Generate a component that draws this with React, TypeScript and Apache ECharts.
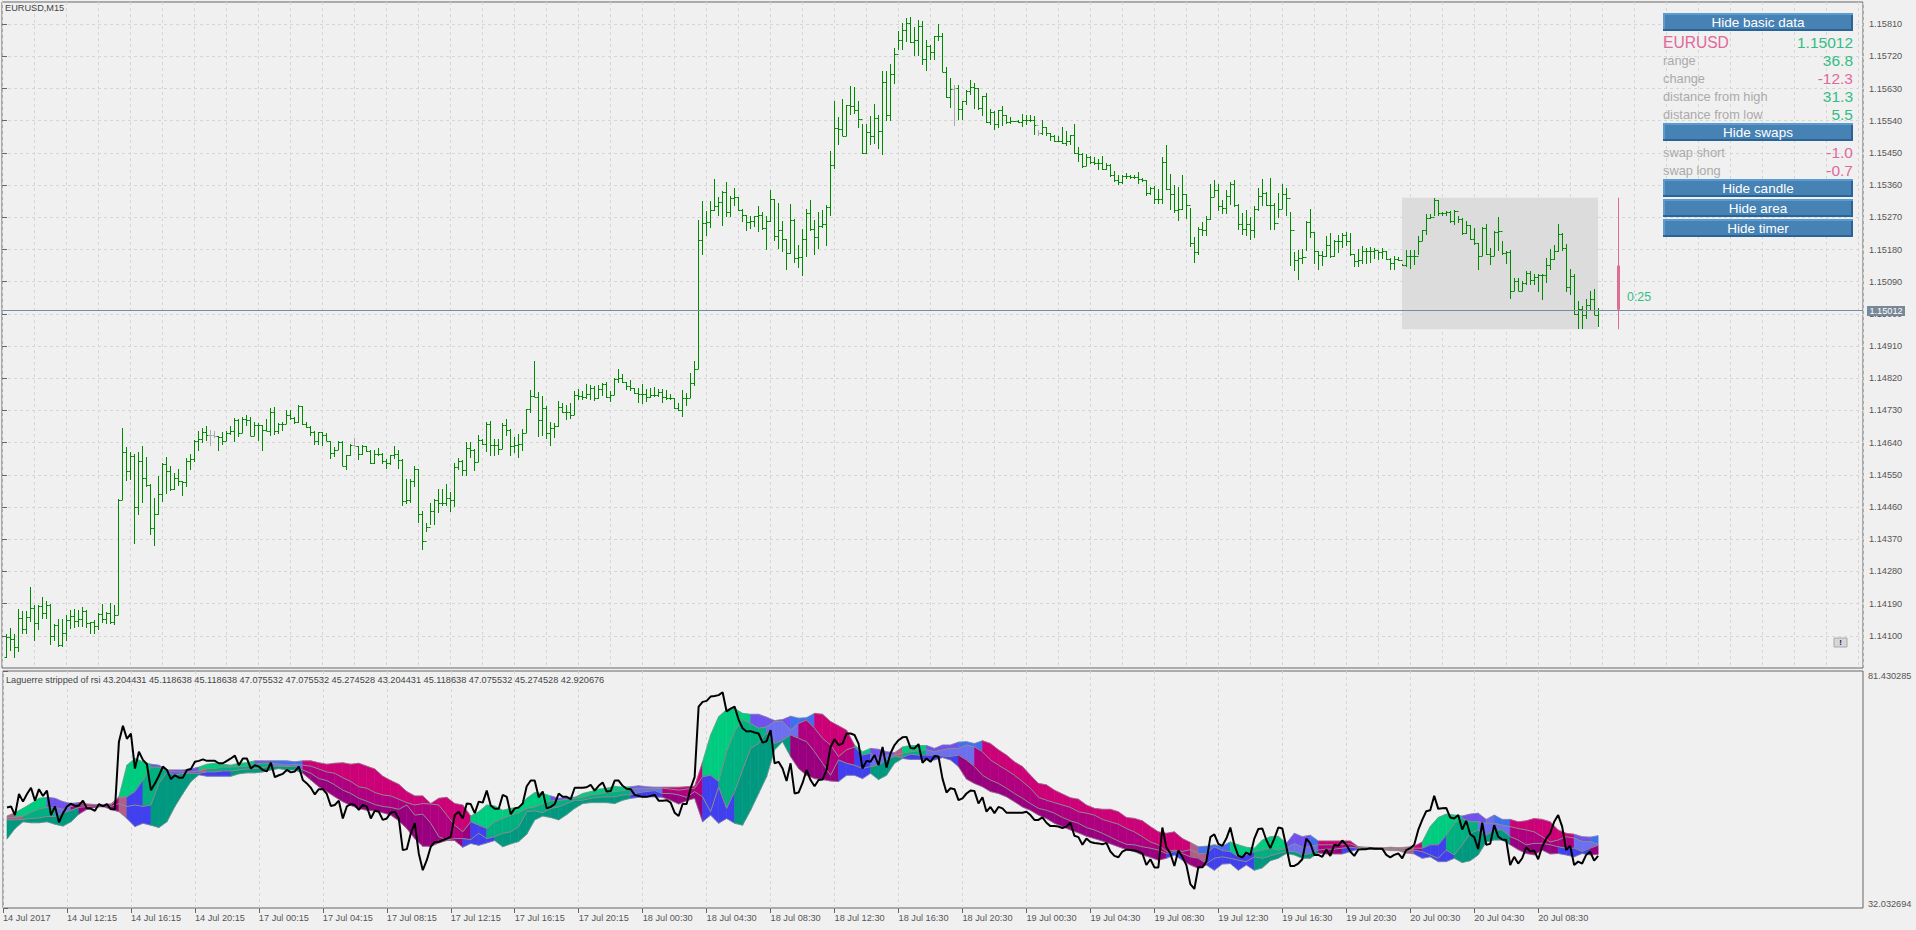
import React, { useEffect, useRef } from "react";
import * as echarts from "echarts";

// Prices are stored as points above 1.14000 (100 = 1.14100)
const HIGHS = [
104,122,106,175,168,168,237,185,185,209,198,190,132,148,148,159,171,176,173,180,
171,139,143,164,190,167,192,187,483,681,628,614,609,614,632,600,524,485,548,583,
600,574,555,567,534,597,608,648,672,682,687,676,673,659,669,673,686,709,706,711,
717,711,698,695,690,707,737,740,695,697,732,732,712,746,743,699,687,673,670,670,
667,644,628,644,645,606,637,653,632,634,632,620,620,625,611,594,606,632,620,594,
538,538,576,567,448,416,471,483,510,510,525,501,583,597,592,641,642,622,662,650,
697,701,650,650,695,707,677,656,663,679,735,786,867,782,770,742,699,696,757,751,
744,750,785,789,784,805,801,798,800,807,810,784,821,845,831,810,814,793,792,803,
789,793,796,789,789,787,775,764,751,786,779,835,867,1262,1317,1289,1317,1378,1326,1344,
1369,1329,1352,1327,1294,1276,1275,1275,1301,1286,1273,1347,1321,1310,1261,1209,1307,1265,1194,1236,
1293,1319,1263,1285,1291,1305,1456,1596,1550,1601,1585,1638,1634,1596,1532,1532,1552,1588,1557,1680,
1680,1699,1743,1790,1813,1827,1830,1802,1822,1820,1766,1752,1778,1811,1785,1689,1659,1641,1641,1596,
1625,1655,1645,1631,1610,1617,1573,1566,1571,1582,1557,1550,1539,1541,1560,1557,1555,1552,1515,1543,
1522,1507,1499,1496,1523,1510,1501,1532,1468,1450,1447,1442,1438,1433,1442,1422,1420,1399,1389,1389,
1394,1389,1387,1396,1380,1375,1355,1357,1350,1440,1473,1392,1361,1355,1389,1336,1296,1214,1243,1258,
1275,1364,1375,1364,1319,1345,1368,1375,1308,1282,1291,1270,1301,1352,1378,1342,1380,1310,1338,1363,
1352,1285,1173,1180,1181,1259,1294,1229,1175,1175,1219,1226,1207,1220,1226,1229,1226,1167,1182,1191,
1184,1187,1184,1177,1184,1177,1156,1163,1159,1140,1180,1180,1180,1219,1235,1280,1280,1324,1319,1285,
1289,1287,1291,1273,1268,1259,1249,1240,1198,1243,1252,1184,1231,1271,1203,1175,1180,1099,1100,1091,
1119,1121,1112,1112,1112,1156,1182,1194,1252,1226,1196,1126,1112,1035,1021,1043,1063,1071,1017];

const LOWS = [
37,57,37,54,104,104,138,85,116,147,147,73,85,68,68,85,120,122,124,126,
123,105,105,116,136,134,134,129,158,481,532,537,356,439,472,515,383,350,439,475,
497,504,509,518,492,515,564,585,618,639,644,630,653,618,634,644,662,641,655,667,
686,659,659,645,616,672,659,662,664,672,693,704,693,695,688,681,658,634,634,632,
644,595,600,620,574,563,604,630,591,606,614,579,581,604,580,565,577,594,567,462,
468,471,515,414,341,389,411,411,442,462,462,445,460,564,548,548,597,562,585,634,
613,602,604,606,621,658,602,612,598,616,666,722,768,656,660,651,632,653,684,724,
703,705,716,759,759,763,759,756,763,770,765,753,772,807,807,787,784,775,751,747,
753,765,768,768,750,759,759,735,728,711,742,765,798,847,1166,1219,1240,1289,1275,1247,
1270,1270,1301,1289,1256,1231,1237,1242,1228,1234,1180,1257,1203,1182,1172,1124,1168,1141,1127,1107,
1159,1231,1166,1182,1239,1189,1273,1406,1471,1496,1496,1555,1560,1521,1448,1447,1471,1475,1462,1445,
1538,1538,1643,1738,1738,1759,1757,1722,1722,1695,1678,1710,1710,1764,1676,1603,1577,1526,1543,1543,
1583,1613,1574,1571,1554,1535,1529,1515,1521,1526,1531,1531,1536,1533,1523,1528,1536,1501,1498,1499,
1498,1484,1480,1480,1475,1470,1473,1448,1426,1408,1413,1419,1415,1401,1403,1403,1383,1368,1359,1363,
1378,1378,1378,1364,1370,1329,1333,1308,1308,1307,1345,1290,1282,1259,1290,1264,1186,1141,1166,1217,
1219,1262,1327,1287,1278,1278,1304,1299,1234,1220,1217,1206,1212,1289,1303,1303,1234,1234,1268,1294,
1273,1135,1119,1096,1140,1175,1212,1140,1124,1135,1159,1156,1159,1170,1184,1189,1163,1130,1130,1140,
1140,1142,1154,1152,1153,1150,1124,1124,1147,1133,1130,1126,1138,1166,1203,1221,1265,1273,1275,1273,
1273,1254,1249,1254,1221,1224,1207,1194,1122,1163,1166,1138,1161,1175,1164,1140,1043,1063,1063,1065,
1082,1080,1082,1060,1038,1086,1122,1150,1172,1175,1061,1054,996,958,959,987,1012,996,963];

const CLOSES = [
97,92,69,150,119,153,178,136,184,164,185,99,131,73,107,145,156,142,147,169,
135,139,128,162,147,165,138,158,481,613,560,602,459,590,541,521,402,441,497,580,
560,511,541,532,530,590,594,646,650,669,662,661,658,656,645,667,674,704,667,707,
702,659,690,690,676,673,726,672,693,693,716,709,699,743,693,684,670,645,669,662,
644,611,620,642,576,605,634,630,608,632,618,583,608,608,590,582,605,608,592,476,
479,534,567,441,366,404,450,481,471,471,484,481,572,590,563,625,620,586,648,636,
692,634,634,623,689,675,630,634,635,668,735,770,769,704,737,666,682,686,740,726,
726,717,773,770,769,775,792,765,791,803,769,773,819,820,810,798,792,778,777,777,
769,772,772,782,767,764,764,737,730,765,765,807,847,1207,1254,1258,1290,1301,1312,1341,
1285,1324,1326,1291,1276,1256,1259,1273,1276,1240,1259,1321,1217,1235,1209,1169,1263,1156,1159,1209,
1282,1237,1215,1247,1252,1299,1416,1520,1518,1497,1583,1582,1571,1545,1450,1508,1496,1547,1510,1648,
1557,1671,1726,1766,1794,1813,1760,1766,1805,1713,1750,1732,1778,1778,1676,1606,1629,1631,1574,1594,
1622,1634,1631,1577,1608,1536,1564,1531,1569,1555,1536,1538,1538,1536,1541,1541,1543,1529,1507,1522,
1506,1496,1482,1484,1478,1484,1499,1450,1448,1413,1440,1424,1422,1422,1406,1417,1387,1375,1368,1385,
1385,1383,1382,1378,1375,1338,1352,1321,1321,1426,1350,1335,1291,1293,1335,1305,1198,1173,1236,1234,
1264,1327,1347,1301,1296,1329,1364,1305,1252,1236,1252,1235,1294,1329,1338,1305,1305,1254,1294,1336,
1324,1234,1152,1156,1159,1256,1228,1177,1164,1163,1192,1161,1205,1203,1220,1205,1167,1147,1152,1175,
1177,1177,1178,1172,1175,1153,1142,1154,1152,1138,1161,1163,1163,1203,1234,1268,1271,1319,1282,1282,
1285,1259,1289,1266,1226,1249,1209,1198,1163,1240,1168,1163,1229,1233,1170,1173,1063,1093,1065,1086,
1113,1096,1103,1108,1110,1138,1153,1175,1224,1184,1074,1105,1000,1014,998,1026,1043,996,1012];

const OPENS = [
41,97,92,69,150,119,153,178,136,184,164,185,99,131,73,107,145,156,142,147,
169,135,139,128,162,147,165,138,158,481,613,560,602,459,590,541,521,402,441,497,
580,560,511,541,532,530,590,594,646,650,669,662,661,658,656,645,667,674,704,667,
707,702,659,690,690,676,673,726,672,693,693,716,709,699,743,693,684,670,645,669,
662,644,611,620,642,576,605,634,630,608,632,618,583,608,608,590,582,605,608,592,
476,479,534,567,441,366,404,450,481,471,471,484,481,572,590,563,625,620,586,648,
636,692,634,634,623,689,675,630,634,635,668,735,770,769,704,737,666,682,686,740,
726,726,717,773,770,769,775,792,765,791,803,769,773,819,820,810,798,792,778,777,
777,769,772,772,782,767,764,764,737,730,765,765,807,847,1207,1254,1258,1290,1301,1312,
1341,1285,1324,1326,1291,1276,1256,1259,1273,1276,1240,1259,1321,1217,1235,1209,1169,1263,1156,1159,
1209,1282,1237,1215,1247,1252,1299,1416,1520,1518,1497,1583,1582,1571,1545,1450,1508,1496,1547,1510,
1648,1557,1671,1726,1766,1794,1813,1760,1766,1805,1713,1750,1732,1778,1778,1676,1606,1629,1631,1574,
1594,1622,1634,1631,1577,1608,1536,1564,1531,1569,1555,1536,1538,1538,1536,1541,1541,1543,1529,1507,
1522,1506,1496,1482,1484,1478,1484,1499,1450,1448,1413,1440,1424,1422,1422,1406,1417,1387,1375,1368,
1385,1385,1383,1382,1378,1375,1338,1352,1321,1321,1426,1350,1335,1291,1293,1335,1305,1198,1173,1236,
1234,1264,1327,1347,1301,1296,1329,1364,1305,1252,1236,1252,1235,1294,1329,1338,1305,1305,1254,1294,
1336,1324,1234,1152,1156,1159,1256,1228,1177,1164,1163,1192,1161,1205,1203,1220,1205,1167,1147,1152,
1175,1177,1177,1178,1172,1175,1153,1142,1154,1152,1138,1161,1163,1163,1203,1234,1268,1271,1319,1282,
1282,1285,1259,1289,1266,1226,1249,1209,1198,1163,1240,1168,1163,1229,1233,1170,1173,1063,1093,1065,
1086,1113,1096,1103,1108,1110,1138,1153,1175,1224,1184,1074,1105,1000,1014,998,1026,1043,996];

const DOJI_BARS = [51, 52, 87, 237, 258];

const RSI_LINE = [
53.0,53.2,51.4,55.8,54.2,55.8,57.1,54.4,56.8,55.4,56.5,51.4,53.2,49.9,51.8,53.2,53.8,53.3,53.4,54.4,
52.8,52.7,52.3,53.7,53.2,53.7,52.6,52.6,66.7,70.0,67.3,68.4,61.1,64.6,62.9,62.0,56.6,58.0,59.6,61.5,
60.8,58.9,59.7,59.2,59.2,60.8,61.0,62.5,62.7,63.0,62.7,62.7,62.7,62.2,62.2,62.7,63.2,63.8,61.8,63.2,
63.2,61.1,61.8,61.5,60.8,60.5,62.3,59.3,59.7,60.0,60.8,60.3,60.5,61.5,58.7,58.0,57.1,55.7,56.8,56.8,
55.8,53.3,53.5,54.4,50.7,53.2,53.7,53.5,52.5,53.5,53.2,50.7,52.3,52.1,50.4,50.7,51.9,52.1,50.7,44.1,
44.3,47.6,49.7,43.4,39.9,42.0,44.8,45.8,45.8,46.2,46.5,46.9,51.4,52.1,50.7,53.8,53.7,51.8,54.2,54.0,
56.5,53.4,52.7,52.7,55.6,55.2,51.6,52.8,53.0,53.8,57.4,58.6,58.6,55.1,56.3,52.8,53.1,53.7,55.9,55.2,
55.2,54.7,57.1,57.1,57.1,57.2,57.7,56.5,57.5,58.2,56.3,56.4,58.6,58.6,57.5,56.9,56.8,55.6,55.4,55.2,
55.2,55.4,55.6,54.4,54.4,54.5,54.0,51.9,51.2,53.7,53.7,57.0,59.3,74.0,75.0,75.2,76.1,76.2,76.4,77.0,
73.0,73.6,74.0,71.3,69.5,68.8,68.9,68.6,68.4,66.5,66.8,69.1,62.2,62.5,61.1,58.5,62.2,55.9,56.1,58.1,
60.8,58.7,57.4,58.7,58.8,60.8,65.6,67.2,66.0,66.3,68.4,68.4,68.1,66.3,61.1,62.7,62.5,63.9,61.8,65.6,
61.3,64.3,66.0,67.0,67.6,67.7,65.4,65.3,66.2,62.3,63.2,62.5,63.7,63.6,59.0,56.1,57.0,56.8,54.5,54.9,
55.9,56.5,56.4,53.8,55.1,52.1,53.1,51.8,53.1,52.8,51.9,51.9,51.9,51.9,51.9,52.1,51.4,50.4,50.4,50.9,
49.8,49.1,49.1,49.0,48.7,49.0,49.8,47.1,46.8,45.2,46.5,45.8,45.6,45.5,45.3,45.6,43.8,42.9,42.6,43.8,
44.2,44.1,44.0,43.8,43.4,41.0,42.2,40.5,40.5,48.8,44.7,43.4,40.8,44.0,42.7,41.0,37.0,36.0,40.6,40.5,
41.7,46.8,47.4,45.4,45.0,46.5,48.8,45.2,42.9,42.6,43.6,43.1,46.5,48.5,48.6,46.2,44.5,46.5,48.8,48.6,
44.8,40.8,40.8,41.3,42.2,46.5,45.5,43.1,43.1,42.7,44.2,42.9,45.2,45.0,46.1,45.2,43.8,42.9,44.2,44.3,
44.3,44.5,44.4,44.4,44.4,43.1,42.6,43.1,43.4,42.4,44.1,44.5,45.2,48.3,50.4,52.2,52.4,55.4,52.7,52.8,
52.9,50.9,50.7,51.4,48.4,50.2,47.4,46.8,44.3,49.8,45.2,45.4,49.3,46.9,46.3,46.2,41.0,42.7,41.3,42.4,
44.7,43.8,44.0,42.2,44.8,46.5,47.6,50.0,51.4,49.0,44.1,45.0,41.0,41.7,41.3,43.1,43.8,41.9,42.9];

// Ribbon edges, read every second bar, from top to bottom of the stack
const RIBBON_TOP = [
51.2,51.9,52.8,53.8,54.9,55.1,54.9,54.2,53.8,54.0,53.7,53.6,53.6,53.7,55.2,61.8,63.2,62.5,62.0,61.8,
60.8,60.8,60.8,61.0,61.4,62.0,62.2,62.0,61.8,62.2,62.3,62.7,62.7,62.7,62.7,62.7,62.5,62.7,62.7,62.3,
62.0,62.2,62.3,62.0,62.2,61.6,61.0,59.5,58.6,57.8,56.3,55.4,55.4,53.8,54.9,55.1,53.8,53.5,51.2,52.1,
53.5,53.3,52.4,52.8,53.0,54.9,56.1,55.9,55.4,54.9,55.1,55.1,55.9,56.3,56.8,57.0,57.4,57.2,57.3,57.5,
57.3,57.2,57.2,57.2,57.2,57.3,57.4,62.5,68.1,71.9,73.4,73.6,72.6,72.4,72.4,71.8,71.1,71.3,72.0,71.6,
71.7,72.6,72.4,70.9,70.0,69.1,66.0,64.6,65.3,65.1,64.6,64.4,65.6,65.9,65.9,65.9,65.3,66.0,66.0,66.6,
66.7,66.3,66.9,66.3,65.0,63.9,62.5,61.5,59.7,58.0,57.7,56.6,55.8,55.0,54.7,53.5,52.8,52.6,52.6,52.1,
50.9,50.7,50.2,49.0,47.9,47.6,47.9,46.5,45.7,44.8,44.9,45.2,44.9,45.8,45.2,44.7,44.5,46.2,46.9,47.0,
45.5,47.6,46.9,47.2,46.0,46.0,46.0,46.0,46.0,44.8,44.7,44.6,44.5,44.7,44.6,44.7,44.9,45.8,49.0,50.9,
51.6,51.4,51.2,51.6,51.8,50.5,51.4,50.5,50.5,50.0,50.2,50.7,50.5,50.0,48.3,47.6,47.4,46.9,46.8,47.1];
const RIBBON_UPPER_MID = [
50.9,50.9,51.2,52.0,52.7,53.0,53.0,52.6,53.2,53.5,53.5,53.6,53.5,53.5,55.1,55.2,56.3,58.7,61.4,61.4,
60.6,60.4,60.4,60.4,60.6,61.1,61.1,61.4,61.4,61.5,61.6,62.0,62.2,62.2,62.0,61.8,62.0,61.8,61.6,61.0,
60.4,60.1,59.2,58.4,57.3,57.0,56.1,55.6,55.4,54.7,54.0,53.5,53.8,53.7,53.5,51.4,49.3,47.9,50.0,49.3,
48.6,50.0,50.7,51.4,51.9,52.8,53.1,53.7,54.4,54.4,54.7,54.9,55.1,55.6,55.8,56.1,56.3,56.5,56.8,57.0,
57.0,57.0,57.0,56.8,56.6,56.8,57.0,59.4,59.7,58.4,64.6,68.8,71.3,70.5,69.5,69.8,70.9,70.9,69.1,70.5,
71.2,69.5,67.4,66.0,63.6,65.0,65.6,63.9,64.3,63.2,63.9,63.9,64.3,64.6,64.8,65.0,64.6,65.0,65.3,65.3,
66.0,65.6,64.6,62.9,61.8,60.8,59.7,58.4,57.0,55.1,54.5,54.0,53.5,53.0,52.1,51.8,51.4,50.5,50.0,49.5,
48.6,47.9,46.9,45.8,45.2,43.8,44.1,43.8,44.2,43.4,43.4,44.8,44.0,43.8,42.7,43.1,43.8,44.1,44.5,44.1,
44.5,45.5,44.7,44.8,45.2,45.2,45.2,45.3,45.4,44.7,44.6,44.5,44.5,44.5,44.4,44.4,44.5,44.5,45.2,45.2,
47.2,49.7,50.7,50.0,50.0,49.7,49.7,49.3,49.0,48.6,48.3,47.9,46.9,45.8,46.2,46.9,46.6,45.9,45.9,45.3];
const RIBBON_LOWER_MID = [
50.4,50.4,50.5,50.7,50.8,51.1,51.1,51.8,52.4,53.0,53.2,53.3,53.4,53.2,53.8,53.2,53.5,53.2,53.5,58.0,
60.4,59.7,60.1,60.1,60.1,60.4,60.4,60.6,60.6,60.8,61.0,61.1,61.3,61.6,61.6,61.5,61.6,60.8,60.1,59.0,
58.6,57.7,56.6,55.9,54.9,54.3,53.6,53.2,53.0,52.6,53.5,51.4,51.6,49.7,46.9,46.2,46.5,46.5,46.3,47.6,
46.5,46.9,47.6,47.9,49.0,52.1,52.3,51.9,52.8,53.1,53.8,54.5,54.5,54.9,55.1,55.2,55.2,55.6,55.6,56.1,
56.3,56.5,55.9,55.9,55.6,55.1,56.3,55.2,52.1,57.3,52.8,56.3,60.8,65.3,66.3,68.6,66.3,67.0,68.1,67.4,
66.7,64.6,62.2,59.7,62.9,62.2,61.8,61.1,61.5,61.8,62.9,63.6,63.4,64.1,63.9,63.9,63.9,63.7,63.6,63.9,
62.9,61.5,59.7,58.7,58.0,57.0,55.9,54.9,53.8,52.8,52.4,51.8,50.9,50.2,49.7,48.8,48.3,47.6,46.8,46.0,
45.3,45.2,44.8,44.5,44.1,43.4,43.8,43.4,42.7,42.4,41.3,42.4,42.7,42.4,42.0,41.7,42.7,42.4,42.9,43.4,
43.8,43.8,43.1,43.4,44.1,44.3,44.3,44.5,44.7,44.5,44.5,44.4,44.3,44.3,44.1,44.0,44.1,43.8,43.1,42.4,
44.1,43.1,45.2,47.6,48.3,47.2,48.3,48.3,46.9,46.2,45.2,45.5,45.5,45.2,44.8,44.5,44.5,43.8,44.5,45.1];
const RIBBON_BOTTOM = [
46.4,48.6,50.0,49.8,49.8,50.0,49.5,49.1,50.0,51.6,52.6,53.0,53.2,52.6,52.1,50.7,49.0,49.7,49.3,48.8,
50.0,53.2,55.9,58.4,59.8,59.5,59.5,59.5,59.5,60.0,60.2,60.2,60.4,60.8,61.1,60.8,60.8,60.1,58.7,57.3,
56.3,55.2,54.2,53.4,52.8,52.4,52.3,51.9,51.4,50.2,48.6,46.5,44.9,44.9,45.6,46.1,46.1,44.7,45.5,45.1,
45.6,46.1,44.8,45.4,45.9,47.4,50.4,51.2,50.9,50.4,51.5,52.8,53.8,54.0,54.0,54.0,53.8,54.5,54.9,55.1,
55.2,55.2,55.1,54.5,53.7,54.4,54.9,50.0,51.4,49.7,50.7,49.7,49.3,52.4,55.9,59.4,65.0,66.7,63.6,61.1,
59.7,59.0,58.8,58.5,58.4,59.7,59.7,59.0,60.1,58.8,59.7,62.2,63.2,63.0,63.0,62.9,62.9,63.4,62.9,61.5,
58.9,58.0,57.3,56.3,55.9,55.2,54.2,53.1,52.4,51.4,50.7,49.7,49.0,48.3,47.7,47.0,46.5,46.0,45.4,44.8,
44.2,43.8,43.1,42.6,42.0,42.4,43.1,42.0,41.0,40.3,41.0,39.9,41.2,41.3,39.9,41.0,39.9,40.4,41.9,42.4,
43.4,43.1,42.4,42.4,43.5,43.3,43.3,43.3,43.8,44.3,44.3,44.3,44.2,44.0,44.0,43.5,43.3,42.4,42.7,41.7,
41.7,42.4,41.5,41.9,43.1,45.8,46.2,46.2,45.2,44.2,43.4,43.1,44.1,43.3,43.4,43.1,42.7,43.4,43.1,43.2];

// Fill of each ribbon band, as runs of [palette key, number of samples]
const TOP_BAND_RUNS: [string, number][] = [["x",1],["g",4],["v",4],["p",5],["g",4],["v",6],["g",7],["v",2],["s",4],["p",21],["g",7],["g",3],["v",3],["g",7],["v",4],["p",5],["g",6],["v",5],["s",3],["p",5],["g",2],["v",3],["x",1],["g",3],["v",4],["s",3],["p",8],["p",18],["x",1],["s",4],["g",7],["v",3],["s",1],["p",5],["x",7],["p",1],["g",5],["v",3],["l",1],["s",2],["p",8],["v",2],["s",2]];
const MID_BAND_RUNS: [string, number][] = [["x",2],["m",4],["l",2],["q",6],["x",1],["b",2],["m",3],["v",4],["x",1],["m",8],["l",4],["q",20],["r",1],["b",2],["m",5],["m",13],["l",4],["q",5],["b",2],["m",6],["l",4],["q",7],["b",2],["l",3],["x",1],["m",3],["l",6],["q",9],["q",18],["x",2],["b",6],["m",4],["l",4],["q",5],["x",7],["q",1],["b",3],["m",4],["l",4],["q",8],["l",4]];
const LOW_BAND_RUNS: [string, number][] = [["d",9],["r",5],["x",1],["b",3],["d",6],["b",4],["d",9],["r",20],["b",4],["d",4],["d",13],["b",4],["r",5],["b",4],["d",7],["r",6],["b",4],["d",4],["b",7],["r",11],["r",15],["b",2],["r",3],["b",6],["d",8],["r",3],["b",2],["x",7],["b",5],["d",7],["r",6],["b",4],["r",2]];

const BAND_COLORS: Record<string, string> = {
  g: "#00CC80", m: "#00B080", d: "#009980",
  p: "#CC0077", q: "#B00080", r: "#990080",
  b: "#4040EE", v: "#7050EE", l: "#6C70EE", s: "#4070F0", x: "#B06088",
};

const TIME_LABELS = ["14 Jul 2017","14 Jul 12:15","14 Jul 16:15","14 Jul 20:15","17 Jul 00:15","17 Jul 04:15","17 Jul 08:15","17 Jul 12:15","17 Jul 16:15","17 Jul 20:15","18 Jul 00:30","18 Jul 04:30","18 Jul 08:30","18 Jul 12:30","18 Jul 16:30","18 Jul 20:30","19 Jul 00:30","19 Jul 04:30","19 Jul 08:30","19 Jul 12:30","19 Jul 16:30","19 Jul 20:30","20 Jul 00:30","20 Jul 04:30","20 Jul 08:30"];
const PRICE_TICKS = [100,190,280,370,460,550,640,730,820,910,1000,1090,1180,1270,1360,1450,1540,1630,1720,1810];

// Day candle drawn to the right of the last bar, and its shaded range
const DAY_CANDLE = { slot: 404, open: 1135, high: 1325, low: 957, close: 1012 };
const AREA_SLOTS = [350, 399];
const LAST_PRICE = 1012;

const INDICATOR_TITLE = "Laguerre stripped of rsi 43.204431 45.118638 45.118638 47.075532 47.075532 45.274528 43.204431 45.118638 47.075532 45.274528 42.920676";
const BASIC_ROWS = [
  ["range", "36.8", "up"],
  ["change", "-12.3", "down"],
  ["distance from high", "31.3", "up"],
  ["distance from low", "5.5", "up"],
];
const SWAP_ROWS = [["swap short", "-1.0"], ["swap long", "-0.7"]];

const FONT = '"Liberation Sans", Arial, sans-serif';
const PINK = "#E0699A";
const GREEN = "#35BC85";

const expandRuns = (runs: [string, number][]) => runs.flatMap(([k, n]) => Array(n).fill(k));
const priceLabel = (p: number) => ((114000 + p) / 100000).toFixed(5);
const crisp = (v: number) => Math.round(v) + 0.5;

function button(label: string, y: number) {
  const x = 1663, w = 190, h = 18;
  return [
    { type: "rect", z: 100, shape: { x, y, width: w, height: h }, style: { fill: "#4682B4" } },
    { type: "rect", z: 101, shape: { x, y, width: w, height: 2 }, style: { fill: "#5C9BD2" } },
    { type: "rect", z: 101, shape: { x, y, width: 2, height: h }, style: { fill: "#5C9BD2" } },
    { type: "rect", z: 101, shape: { x, y: y + h - 2, width: w, height: 2 }, style: { fill: "#2A6496" } },
    { type: "rect", z: 101, shape: { x: x + w - 2, y: y + 2, width: 2, height: h - 2 }, style: { fill: "#2A6496" } },
    { type: "text", z: 102, x: 1758, y: y + 9, style: { text: label, fill: "#FFFFFF", font: `13.5px ${FONT}`, textAlign: "center", textVerticalAlign: "middle" } },
  ];
}
const panelText = (text: string, x: number, y: number, size: number, fill: string, align = "left") => ({
  type: "text", z: 102, x, y, style: { text, fill, font: `${size}px ${FONT}`, textAlign: align, textVerticalAlign: "middle" },
});

export default function App() {
  const ref = useRef<HTMLDivElement>(null);
  useEffect(() => {
    document.body.style.margin = "0";
    const chart = echarts.init(ref.current!, null, { renderer: "svg" });

    const topColors = expandRuns(TOP_BAND_RUNS);
    const midColors = expandRuns(MID_BAND_RUNS);
    const lowColors = expandRuns(LOW_BAND_RUNS);
    const ribbonEdges = [RIBBON_TOP, RIBBON_UPPER_MID, RIBBON_LOWER_MID, RIBBON_BOTTOM];
    const bandColors = [topColors, midColors, lowColors];

    const barData = HIGHS.map((h, i) => [i + 1, OPENS[i], h, LOWS[i], CLOSES[i]]);
    const ribbonData = RIBBON_TOP.slice(0, -1).map((_, k) => [2 * k + 1, RIBBON_TOP[k], RIBBON_BOTTOM[k]]);
    const tickSlots = TIME_LABELS.map((_, i) => i * 16);

    const gridColor = "#D6D6D6";
    const frame = "#666666";

    const option: any = {
      animation: false,
      backgroundColor: "#F0F0F0",
      grid: [
        { left: 2, top: 2, width: 1861, height: 666, show: true, borderColor: frame, borderWidth: 1, backgroundColor: "transparent" },
        { left: 2, top: 671, width: 1861, height: 237, show: true, borderColor: frame, borderWidth: 1, backgroundColor: "transparent" },
      ],
      xAxis: [
        { type: "value", gridIndex: 0, min: 0, max: 465.25, interval: 8, axisLine: { show: false }, axisTick: { show: false }, axisLabel: { show: false },
          splitLine: { show: true, lineStyle: { color: gridColor, type: [3, 3], width: 1 } } },
        { type: "value", gridIndex: 1, min: 0, max: 465.25, interval: 8, axisLine: { show: false },
          axisTick: { show: true, length: 5, customValues: tickSlots, lineStyle: { color: frame } },
          axisLabel: { show: true, customValues: tickSlots, formatter: (v: number) => TIME_LABELS[v / 16] ?? "", align: "left", margin: 5, color: "#555555", fontFamily: FONT, fontSize: 9.2, hideOverlap: false },
          splitLine: { show: true, lineStyle: { color: gridColor, type: [3, 3], width: 1 } } },
      ],
      yAxis: [
        { type: "value", gridIndex: 0, position: "right", min: 10, max: 1872, interval: 90, axisLine: { show: false },
          axisTick: { show: true, length: 5, customValues: PRICE_TICKS, lineStyle: { color: frame } },
          axisLabel: { show: true, customValues: PRICE_TICKS, formatter: priceLabel, margin: 6, color: "#555555", fontFamily: FONT, fontSize: 9.2 },
          splitLine: { show: true, lineStyle: { color: gridColor, type: [3, 3], width: 1 } } },
        { type: "value", gridIndex: 1, position: "right", min: 32.032694, max: 81.430285, interval: 49.397591, axisLine: { show: false },
          axisTick: { show: true, length: 5, lineStyle: { color: frame } },
          axisLabel: { show: true, formatter: (v: number) => v.toFixed(6), margin: 5, color: "#555555", fontFamily: FONT, fontSize: 9.2, verticalAlignMinLabel: "bottom", verticalAlignMaxLabel: "top" },
          splitLine: { show: false } },
      ],
      series: [
        { type: "custom", name: "range", xAxisIndex: 0, yAxisIndex: 0, z: 1, silent: true, data: [[AREA_SLOTS[0], AREA_SLOTS[1], DAY_CANDLE.high, DAY_CANDLE.low]], encode: { x: [0, 1], y: [2, 3] },
          renderItem: (_: any, api: any) => {
            const a = api.coord([api.value(0), api.value(2)]);
            const b = api.coord([api.value(1), api.value(3)]);
            return { type: "rect", shape: { x: a[0], y: a[1], width: b[0] - a[0], height: b[1] - a[1] }, style: { fill: "#DCDCDC" } };
          } },
        { type: "custom", name: "EURUSD", xAxisIndex: 0, yAxisIndex: 0, z: 3, silent: true, data: barData, encode: { x: 0, y: [1, 2, 3, 4] },
          renderItem: (params: any, api: any) => {
            const j = api.value(0);
            const stroke = DOJI_BARS.includes(params.dataIndex) ? "#AAAAAA" : "#008A00";
            const x = crisp(api.coord([j, 0])[0]);
            const hi = api.coord([j, api.value(2)])[1];
            const lo = api.coord([j, api.value(3)])[1];
            const o = crisp(api.coord([j, api.value(1)])[1]);
            const c = crisp(api.coord([j, api.value(4)])[1]);
            const style = { stroke, lineWidth: 1 };
            return { type: "group", children: [
              { type: "line", shape: { x1: x, y1: Math.round(hi), x2: x, y2: Math.round(lo) }, style },
              { type: "line", shape: { x1: x - 2, y1: o, x2: x, y2: o }, style },
              { type: "line", shape: { x1: x, y1: c, x2: x + 2, y2: c }, style },
            ] };
          } },
        { type: "custom", name: "day candle", xAxisIndex: 0, yAxisIndex: 0, z: 3, silent: true, data: [[DAY_CANDLE.slot, DAY_CANDLE.open, DAY_CANDLE.high, DAY_CANDLE.low, DAY_CANDLE.close]], encode: { x: 0, y: [1, 2, 3, 4] },
          renderItem: (_: any, api: any) => {
            const j = api.value(0);
            const x = api.coord([j, 0])[0];
            const pts = [1, 2, 3, 4].map((d) => api.coord([j, api.value(d)])[1]);
            return { type: "group", children: [
              { type: "line", shape: { x1: crisp(x), y1: pts[1], x2: crisp(x), y2: pts[2] }, style: { stroke: "#DE6D96", lineWidth: 1 } },
              { type: "rect", shape: { x: Math.round(x) - 1, y: pts[0], width: 3, height: pts[3] - pts[0] }, style: { fill: "#DE6D96" } },
            ] };
          } },
        { type: "custom", name: "last price", xAxisIndex: 0, yAxisIndex: 0, z: 4, silent: true, data: [[0, 465.25, LAST_PRICE]], encode: { x: [0, 1], y: 2 },
          renderItem: (_: any, api: any) => {
            const a = api.coord([api.value(0), api.value(2)]);
            const b = api.coord([api.value(1), api.value(2)]);
            const y = crisp(a[1]);
            return { type: "line", shape: { x1: a[0], y1: y, x2: b[0], y2: y }, style: { stroke: "#778BA3", lineWidth: 1 } };
          } },
        { type: "custom", name: "ribbon", xAxisIndex: 1, yAxisIndex: 1, z: 2, silent: true, data: ribbonData, encode: { x: 0, y: [1, 2] },
          renderItem: (params: any, api: any) => {
            const k = params.dataIndex;
            const x0 = 2 * k + 1, x1 = x0 + 2;
            const children = bandColors.map((colors, band) => {
              const fill = BAND_COLORS[colors[k]] ?? "#888888";
              const u = ribbonEdges[band], d = ribbonEdges[band + 1];
              return { type: "polygon", shape: { points: [
                api.coord([x0, u[k]]), api.coord([x1, u[k + 1]]), api.coord([x1, d[k + 1]]), api.coord([x0, d[k]]),
              ] }, style: { fill, stroke: fill, lineWidth: 0.6 } };
            });
            return { type: "group", children };
          } },
        ...ribbonEdges.map((edge, idx) => ({
          type: "line", name: `edge${idx}`, xAxisIndex: 1, yAxisIndex: 1, z: 3, silent: true, showSymbol: false, symbol: "none",
          data: edge.map((v, k) => [2 * k + 1, v]),
          lineStyle: { color: "#8C8C8C", width: 1, opacity: idx === 0 || idx === 3 ? 0.6 : 1 },
        })),
        { type: "line", name: "rsi", xAxisIndex: 1, yAxisIndex: 1, z: 5, silent: true, showSymbol: false, symbol: "none",
          data: RSI_LINE.map((v, i) => [i + 1, v]), lineStyle: { color: "#000000", width: 2 } },
      ],
      graphic: { elements: [
        { type: "text", z: 102, x: 5, y: 8, style: { text: "EURUSD,M15", fill: "#444444", font: `9.2px ${FONT}`, textVerticalAlign: "middle" } },
        { type: "text", z: 102, x: 6, y: 680, style: { text: INDICATOR_TITLE, fill: "#444444", font: `9.2px ${FONT}`, textVerticalAlign: "middle" } },
        ...button("Hide basic data", 13),
        panelText("EURUSD", 1663, 42, 15.6, PINK),
        panelText("1.15012", 1853, 42, 15.5, GREEN, "right"),
        ...BASIC_ROWS.flatMap(([label, value, dir], i) => [
          panelText(label, 1663, 60 + i * 18, 12.8, "#AAAAAA"),
          panelText(value, 1853, 60 + i * 18, 15.5, dir === "up" ? GREEN : PINK, "right"),
        ]),
        ...button("Hide swaps", 123),
        ...SWAP_ROWS.flatMap(([label, value], i) => [
          panelText(label, 1663, 152 + i * 18, 12.8, "#AAAAAA"),
          panelText(value, 1853, 152 + i * 18, 15.5, PINK, "right"),
        ]),
        ...button("Hide candle", 179),
        ...button("Hide area", 199),
        ...button("Hide timer", 219),
        panelText("0:25", 1627, 297, 12.4, GREEN),
        { type: "rect", z: 101, shape: { x: 1867, y: 306, width: 38, height: 10 }, style: { fill: "#778899" } },
        { type: "text", z: 102, x: 1886, y: 311, style: { text: priceLabel(LAST_PRICE), fill: "#FFFFFF", font: `9.2px ${FONT}`, textAlign: "center", textVerticalAlign: "middle" } },
        { type: "rect", z: 101, shape: { x: 1834, y: 638, width: 13, height: 9 }, style: { fill: "#D6D6DE", stroke: "#A8A8A8", lineWidth: 1 } },
        { type: "text", z: 102, x: 1840.5, y: 642.5, style: { text: "!", fill: "#222222", font: `bold 8px ${FONT}`, textAlign: "center", textVerticalAlign: "middle" } },
      ] },
    };
    chart.setOption(option);
    return () => chart.dispose();
  }, []);
  return <div ref={ref} style={{ position: "absolute", left: 0, top: 0, width: 1916, height: 930 }} />;
}
